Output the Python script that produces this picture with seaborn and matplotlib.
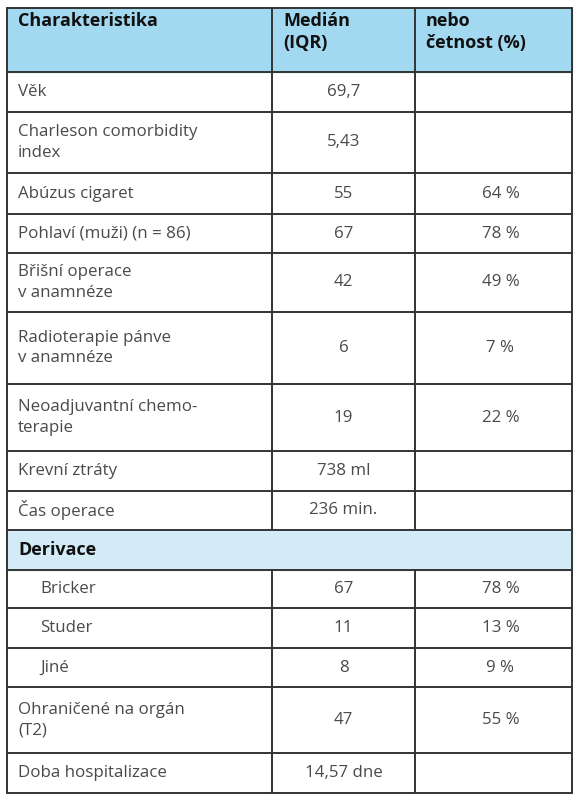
import matplotlib.pyplot as plt
import seaborn as sns

sns.set_theme(style="white")
plt.rcParams['font.family'] = ['Open Sans', 'DejaVu Sans']

# Data
headers = ['Charakteristika', 'Medián\n(IQR)', 'nebo\nčetnost (%)']
labels = ['Věk', 'Charleson comorbidity\nindex', 'Abúzus cigaret', 'Pohlaví (muži) (n = 86)',
          'Břišní operace\nv anamnéze', 'Radioterapie pánve\nv anamnéze',
          'Neoadjuvantní chemo-\nterapie', 'Krevní ztráty', 'Čas operace', 'Derivace',
          'Bricker', 'Studer', 'Jiné', 'Ohraničené na orgán\n(T2)', 'Doba hospitalizace']
medians = ['69,7', '5,43', '55', '67', '42', '6', '19', '738 ml', '236 min.', '',
           '67', '11', '8', '47', '14,57 dne']
counts = ['', '', '64 %', '78 %', '49 %', '7 %', '22 %', '', '', '',
          '78 %', '13 %', '9 %', '55 %', '']
section_rows = ['Derivace']
indented = ['Bricker', 'Studer', 'Jiné']

# Row boundaries in pixels (top -> bottom)
edges = [8, 72, 112, 173, 214, 253, 312, 384, 451, 491, 530, 570, 608, 648, 687, 753, 793]
cols = [7, 272, 415, 572]
blue = '#a3d9f0'
light = '#d3ebf7'
line = '#333333'
txt = '#4a4a4a'
fs = 12.2

fig = plt.figure(figsize=(5.8, 8), dpi=100)
ax = fig.add_axes([0, 0, 1, 1])
ax.set_xlim(0, 580)
ax.set_ylim(800, 0)
ax.axis('off')

# Header
ax.add_patch(plt.Rectangle((cols[0], edges[0]), cols[3] - cols[0], edges[1] - edges[0],
                           color=blue, zorder=0))
for j, h in enumerate(headers):
    ax.text(cols[j] + 11, edges[0] + 4, h, ha='left', va='top', fontsize=13,
            fontweight='bold', color='#111111', linespacing=1.3)

for i, lab in enumerate(labels):
    top, bot = edges[i + 1], edges[i + 2]
    mid = (top + bot) / 2
    if lab in section_rows:
        ax.add_patch(plt.Rectangle((cols[0], top), cols[3] - cols[0], bot - top,
                                   color=light, zorder=0))
        ax.text(cols[0] + 11, mid, lab, ha='left', va='center', fontsize=13,
                fontweight='bold', color='#111111')
        continue
    x0 = cols[0] + (33 if lab in indented else 11)
    ax.text(x0, mid, lab, ha='left', va='center', fontsize=fs,
            color=txt, linespacing=1.4)
    ax.text((cols[1] + cols[2]) / 2, mid, medians[i], ha='center', va='center',
            fontsize=fs, color=txt)
    ax.text((cols[2] + cols[3]) / 2 + 7, mid, counts[i], ha='center', va='center',
            fontsize=fs, color=txt)

# Grid lines
for y in edges:
    ax.plot([cols[0], cols[3]], [y, y], color=line, lw=1.4)
der = labels.index('Derivace')
for x in cols:
    if x in (cols[0], cols[3]):
        ax.plot([x, x], [edges[0], edges[-1]], color=line, lw=1.4)
    else:
        ax.plot([x, x], [edges[0], edges[der + 1]], color=line, lw=1.4)
        ax.plot([x, x], [edges[der + 2], edges[-1]], color=line, lw=1.4)

fig.savefig('out.png', dpi=100)
